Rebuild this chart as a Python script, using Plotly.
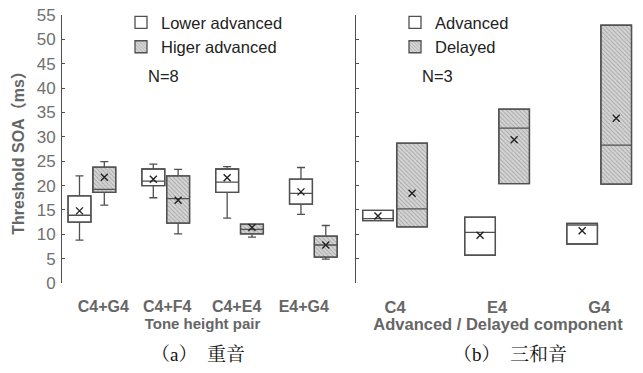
import plotly.graph_objects as go

# ---- data ----
pairs = ["C4+G4", "C4+F4", "C4+E4", "E4+G4"]
low_q1 = [12.5, 20.0, 18.6, 16.2]
low_med = [13.9, 20.9, 20.7, 18.4]
low_q3 = [17.9, 23.4, 23.4, 21.3]
low_lo = [8.8, 17.5, 13.3, 14.1]
low_hi = [22.0, 24.4, 23.9, 23.7]
low_mean = [14.8, 21.3, 21.6, 18.7]

hig_q1 = [18.6, 12.3, 10.1, 5.3]
hig_med = [19.2, 17.3, 11.0, 7.8]
hig_q3 = [23.8, 22.0, 12.1, 9.6]
hig_lo = [16.0, 10.1, 9.4, 4.9]
hig_hi = [24.9, 23.3, 12.1, 11.8]
hig_mean = [21.7, 17.0, 11.4, 7.8]

comps = ["C4", "E4", "G4"]
adv_q1 = [12.8, 5.7, 8.0]
adv_med = [13.2, 10.4, 11.9]
adv_q3 = [14.9, 13.5, 12.25]
adv_mean = [13.75, 9.8, 10.7]

del_q1 = [11.5, 20.4, 20.3]
del_med = [15.2, 31.8, 28.3]
del_q3 = [28.7, 35.7, 52.9]
del_mean = [18.4, 29.4, 33.8]

y_ticks = [0, 5, 10, 15, 20, 25, 30, 35, 40, 45, 50, 55]

# ---- style ----
LINE = "#505050"
GRAY = "#666666"
pattern = dict(shape="\\", size=3, solidity=0.3, fgcolor="#707070", bgcolor="#d6d6d6")

fig = go.Figure()

def add_group(xaxis, yaxis, centers, off, width, q1, med, q3, lo, hi, mean, name, hatched, legend):
    xs = [c + off for c in centers]
    span = [b - a for a, b in zip(q1, q3)]
    fig.add_trace(go.Bar(
        x=xs, y=span, base=q1, width=width, name=name,
        marker=dict(color="#d6d6d6" if hatched else "white",
                    pattern=pattern if hatched else None,
                    line=dict(color=LINE, width=1.3)),
        xaxis=xaxis, yaxis=yaxis, legend=legend, hoverinfo="skip"))
    fig.add_trace(go.Box(
        x=xs, q1=q1, median=med, q3=q3, lowerfence=lo, upperfence=hi,
        width=width, whiskerwidth=0.35, fillcolor="rgba(0,0,0,0)",
        line=dict(color=LINE, width=1.3), showlegend=False,
        xaxis=xaxis, yaxis=yaxis, hoverinfo="skip"))
    fig.add_trace(go.Scatter(
        x=xs, y=mean, mode="markers", showlegend=False,
        marker=dict(symbol="x-thin", size=7, line=dict(width=1.4, color="#222")),
        xaxis=xaxis, yaxis=yaxis, hoverinfo="skip"))

lc = [1, 2, 3, 4]
add_group("x", "y", lc, -0.168, 0.31, low_q1, low_med, low_q3, low_lo, low_hi, low_mean,
          "Lower advanced", False, "legend")
add_group("x", "y", lc, 0.168, 0.31, hig_q1, hig_med, hig_q3, hig_lo, hig_hi, hig_mean,
          "Higer advanced", True, "legend")

rc = [1, 2, 3]
add_group("x2", "y2", rc, -0.167, 0.3, adv_q1, adv_med, adv_q3, adv_q1, adv_q3, adv_mean,
          "Advanced", False, "legend2")
add_group("x2", "y2", rc, 0.167, 0.3, del_q1, del_med, del_q3, del_q1, del_q3, del_mean,
          "Delayed", True, "legend2")

# tick label positions of the left panel (labels are evenly spread in the original)
left_label_pos = [1.155, 2.02, 2.96, 3.87]

tickfont = dict(family="Liberation Sans, Arial", size=16, color=GRAY)
legfont = dict(family="Liberation Sans, Arial", size=16.5, color="#222")
capfont = dict(family="Liberation Serif, Noto Serif CJK SC, Noto Sans CJK SC", size=19, color="#111")

fig.update_layout(
    width=643, height=373,
    margin=dict(l=62, r=3, t=15, b=90),
    paper_bgcolor="white", plot_bgcolor="white",
    barmode="overlay", boxmode="overlay",
    xaxis=dict(domain=[0, 0.486], range=[0.595, 4.4], tickvals=left_label_pos,
               ticktext=[f"<b>{p}</b>" for p in pairs], automargin=False,
               showline=False, showgrid=False, zeroline=False, ticks="", tickfont=tickfont,
               ticklabelstandoff=12,
               title=dict(text="<b>Tone height pair</b>",
                          font=dict(family="Liberation Sans, Arial", size=15, color=GRAY), standoff=1)),
    yaxis=dict(range=[0, 55], tickvals=y_ticks, showline=True, linecolor=LINE, linewidth=1,
               ticks="inside", ticklen=3, tickcolor=LINE, showgrid=False, zeroline=False,
               automargin=False, ticklabelstandoff=2,
               tickfont=dict(family="Liberation Sans, Arial", size=17, color="#707070"),
               title=dict(text="<b>Threshold SOA（ms）</b>",
                          font=dict(family="Liberation Sans, Noto Sans CJK SC", size=16, color=GRAY),
                          standoff=8)),
    xaxis2=dict(domain=[0.5087, 1], range=[0.618, 3.4], tickvals=rc,
                ticktext=[f"<b>{c}</b>" for c in comps], automargin=False,
                showline=False, showgrid=False, zeroline=False, ticks="",
                tickfont=dict(family="Liberation Sans, Arial", size=16.5, color=GRAY),
                ticklabelstandoff=12,
                title=dict(text="<b>Advanced / Delayed component</b>",
                           font=dict(family="Liberation Sans, Arial", size=16.5, color=GRAY), standoff=1)),
    yaxis2=dict(anchor="x2", range=[0, 55], tickvals=y_ticks, showticklabels=False, showline=True,
                linecolor=LINE, linewidth=1, ticks="inside", ticklen=3, tickcolor=LINE,
                showgrid=False, zeroline=False, automargin=False),
    legend=dict(x=(121 - 62) / 578, y=1.037, xanchor="left", yanchor="top", bgcolor="rgba(0,0,0,0)",
                font=legfont, tracegroupgap=0, itemwidth=30),
    legend2=dict(x=(395 - 62) / 578, y=1.037, xanchor="left", yanchor="top", bgcolor="rgba(0,0,0,0)",
                 font=legfont, tracegroupgap=0, itemwidth=30),
    annotations=[
        dict(text="N=8", x=(146 - 62) / 578, y=(283 - 76) / 268, xref="paper", yref="paper",
             xanchor="left", yanchor="middle", showarrow=False, font=legfont),
        dict(text="N=3", x=(420 - 62) / 578, y=(283 - 76) / 268, xref="paper", yref="paper",
             xanchor="left", yanchor="middle", showarrow=False, font=legfont),
        dict(text="（a）　重音", x=(198 - 62) / 578, y=-(354 - 283) / 268, xref="paper", yref="paper",
             xanchor="center", yanchor="middle", showarrow=False, font=capfont),
        dict(text="（b）　三和音", x=(510 - 62) / 578, y=-(354 - 283) / 268, xref="paper", yref="paper",
             xanchor="center", yanchor="middle", showarrow=False, font=capfont),
    ],
)

fig.write_html("out.html", config={"displayModeBar": False},
               post_script="document.body.style.margin='0';")
